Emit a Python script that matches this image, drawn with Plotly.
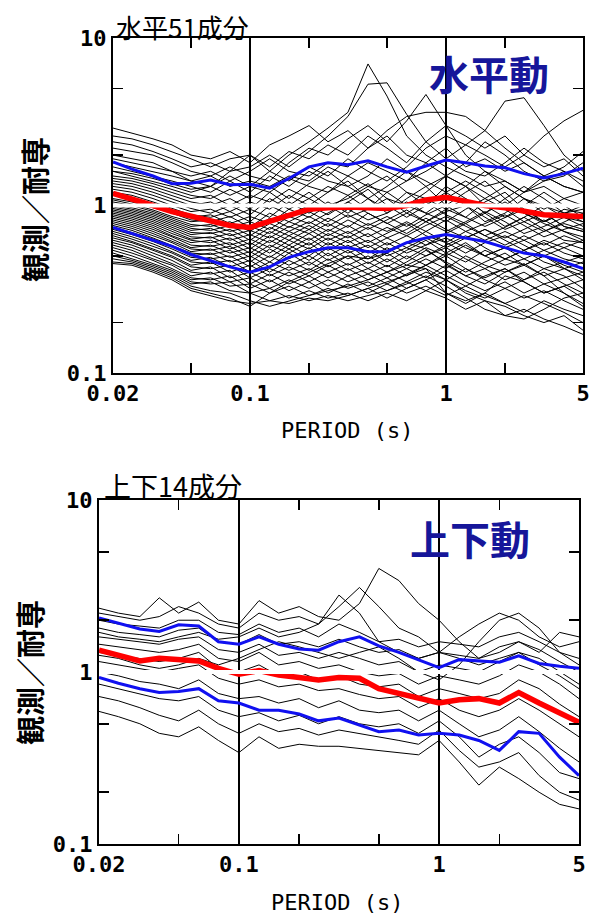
import plotly.graph_objects as go

# Period grid (s) shared by every spectral-ratio curve
periods = [0.02, 0.025, 0.032, 0.04, 0.05, 0.063, 0.079, 0.1, 0.126, 0.158, 0.2, 0.25,
           0.316, 0.4, 0.5, 0.63, 0.79, 1.0, 1.26, 1.58, 2.0, 2.5, 3.16, 4.0, 5.0]

# Horizontal components: observed / Taisen ratio, 51 records
horiz_curves = [
    [2.9, 2.7, 2.5, 2.3, 2.0, 1.9, 2.1, 1.8, 2.3, 2.6, 3.0, 2.4, 2.8, 2.2, 2.6, 2.0, 1.8, 2.2, 1.7, 1.9, 1.6, 1.8, 1.5, 1.7, 2.1],
    [2.6, 2.5, 2.3, 2.1, 1.9, 1.7, 1.9, 2.0, 1.6, 2.0, 2.4, 2.9, 3.6, 7.0, 4.5, 2.6, 2.0, 1.7, 1.5, 1.3, 1.4, 1.2, 1.5, 1.3, 1.2],
    [2.4, 2.3, 2.1, 1.9, 1.7, 1.8, 1.6, 1.7, 2.0, 1.7, 2.1, 2.6, 3.4, 5.3, 5.4, 3.5, 2.4, 1.9, 1.6, 1.5, 1.8, 2.2, 1.8, 1.6, 1.4],
    [2.2, 2.1, 2.0, 1.8, 1.6, 1.5, 1.7, 1.5, 1.4, 1.8, 2.2, 2.0, 2.5, 3.0, 2.4, 3.2, 4.6, 3.0, 2.0, 1.6, 1.3, 1.1, 1.0, 0.9, 0.85],
    [2.0, 1.9, 1.8, 1.6, 1.5, 1.6, 1.4, 1.6, 1.9, 1.6, 1.5, 1.8, 1.7, 2.2, 2.8, 3.4, 3.6, 3.6, 3.4, 2.8, 2.2, 1.8, 1.5, 1.3, 1.2],
    [1.9, 1.8, 1.7, 1.6, 1.4, 1.3, 1.5, 1.3, 1.6, 1.4, 1.7, 1.5, 1.9, 1.6, 1.4, 1.7, 2.2, 2.6, 2.3, 2.8, 4.2, 4.4, 3.0, 2.0, 1.6],
    [1.8, 1.7, 1.6, 1.5, 1.4, 1.5, 1.3, 1.4, 1.3, 1.5, 1.4, 1.7, 1.5, 1.8, 1.6, 1.4, 1.6, 1.9, 2.3, 2.0, 1.7, 2.0, 2.6, 3.2, 3.7],
    [1.7, 1.6, 1.5, 1.4, 1.3, 1.2, 1.4, 1.2, 1.5, 1.3, 1.6, 1.4, 1.3, 1.5, 1.9, 1.6, 1.3, 1.5, 1.8, 2.4, 2.0, 1.6, 1.4, 1.5, 1.8],
    [1.6, 1.55, 1.45, 1.35, 1.25, 1.3, 1.15, 1.3, 1.2, 1.45, 1.3, 1.2, 1.5, 1.3, 1.2, 1.4, 1.8, 1.5, 1.3, 1.6, 1.4, 1.2, 1.3, 1.1, 1.0],
    [1.5, 1.45, 1.35, 1.25, 1.15, 1.1, 1.25, 1.1, 1.3, 1.1, 1.35, 1.6, 1.3, 1.1, 1.3, 1.6, 1.4, 1.2, 1.4, 1.2, 1.0, 1.2, 1.4, 1.6, 1.3],
    [1.45, 1.4, 1.3, 1.2, 1.1, 1.15, 1.0, 1.15, 1.05, 1.25, 1.1, 1.3, 1.15, 1.35, 1.1, 1.0, 1.2, 1.5, 1.3, 1.1, 1.3, 1.1, 0.95, 1.1, 1.2],
    [1.4, 1.35, 1.25, 1.15, 1.05, 1.0, 1.1, 0.95, 1.2, 1.0, 1.2, 1.0, 1.1, 1.3, 1.5, 1.2, 1.0, 1.3, 1.1, 0.9, 1.1, 1.3, 1.1, 0.9, 0.8],
    [1.35, 1.3, 1.2, 1.1, 1.0, 1.05, 0.92, 1.05, 0.95, 1.15, 1.0, 1.2, 1.4, 1.1, 0.9, 1.1, 1.3, 1.0, 1.2, 1.4, 1.1, 0.9, 0.8, 0.95, 0.9],
    [1.3, 1.25, 1.15, 1.05, 0.96, 0.9, 1.0, 0.88, 1.1, 0.95, 1.1, 0.95, 1.15, 0.95, 1.2, 1.0, 0.9, 1.1, 1.3, 1.0, 0.85, 1.0, 1.2, 1.0, 0.85],
    [1.25, 1.2, 1.1, 1.0, 0.92, 0.95, 0.85, 0.95, 0.85, 1.05, 0.9, 1.05, 0.9, 1.1, 0.95, 1.2, 1.1, 0.95, 0.85, 1.05, 1.2, 0.95, 0.8, 0.9, 1.0],
    [1.2, 1.15, 1.05, 0.96, 0.88, 0.85, 0.92, 0.8, 1.0, 0.88, 1.0, 0.88, 1.05, 1.25, 1.0, 0.85, 1.0, 1.2, 1.0, 0.8, 0.9, 1.1, 0.9, 0.75, 0.7],
    [1.15, 1.1, 1.0, 0.92, 0.85, 0.88, 0.78, 0.86, 0.78, 0.95, 0.85, 1.0, 0.85, 0.95, 1.1, 0.9, 0.8, 0.95, 1.1, 0.9, 0.75, 0.85, 1.0, 0.85, 0.75],
    [1.1, 1.05, 0.97, 0.9, 0.82, 0.8, 0.86, 0.74, 0.9, 0.8, 0.92, 0.8, 0.95, 0.82, 0.9, 1.05, 0.9, 0.8, 0.95, 1.1, 0.95, 0.8, 0.7, 0.8, 0.9],
    [1.08, 1.02, 0.94, 0.86, 0.8, 0.82, 0.74, 0.8, 0.72, 0.86, 0.78, 0.9, 1.05, 0.9, 0.78, 0.9, 1.05, 0.88, 0.78, 0.9, 1.05, 0.9, 0.78, 0.7, 0.65],
    [1.05, 1.0, 0.92, 0.84, 0.77, 0.75, 0.8, 0.7, 0.84, 0.74, 0.86, 0.75, 0.88, 0.76, 0.86, 0.75, 0.88, 1.0, 0.85, 0.75, 0.85, 0.95, 0.8, 0.9, 0.95],
    [1.02, 0.97, 0.9, 0.82, 0.75, 0.77, 0.7, 0.75, 0.68, 0.8, 0.72, 0.84, 0.74, 0.9, 0.78, 0.68, 0.8, 0.92, 1.0, 0.85, 0.72, 0.8, 0.9, 0.75, 0.7],
    [1.0, 0.95, 0.88, 0.8, 0.73, 0.71, 0.76, 0.66, 0.78, 0.7, 0.8, 0.7, 0.82, 0.72, 0.82, 0.94, 0.8, 0.7, 0.8, 0.92, 0.8, 0.68, 0.75, 0.85, 0.8],
    [0.98, 0.93, 0.86, 0.78, 0.71, 0.73, 0.66, 0.71, 0.64, 0.75, 0.68, 0.78, 0.68, 0.78, 0.7, 0.8, 0.7, 0.82, 0.7, 0.78, 0.88, 0.76, 0.65, 0.72, 0.78],
    [0.96, 0.91, 0.84, 0.76, 0.69, 0.68, 0.72, 0.62, 0.74, 0.66, 0.76, 0.66, 0.76, 0.65, 0.74, 0.66, 0.76, 0.86, 0.75, 0.66, 0.74, 0.85, 0.72, 0.62, 0.6],
    [0.94, 0.89, 0.82, 0.74, 0.67, 0.69, 0.62, 0.67, 0.6, 0.7, 0.62, 0.72, 0.64, 0.74, 0.64, 0.72, 0.84, 0.72, 0.64, 0.72, 0.64, 0.72, 0.82, 0.7, 0.62],
    [0.92, 0.87, 0.8, 0.72, 0.65, 0.64, 0.68, 0.58, 0.7, 0.62, 0.72, 0.62, 0.7, 0.6, 0.68, 0.78, 0.66, 0.6, 0.7, 0.62, 0.7, 0.62, 0.7, 0.78, 0.72],
    [0.9, 0.85, 0.78, 0.7, 0.63, 0.65, 0.58, 0.63, 0.56, 0.66, 0.58, 0.68, 0.6, 0.68, 0.58, 0.66, 0.58, 0.68, 0.78, 0.66, 0.58, 0.66, 0.58, 0.66, 0.6],
    [0.88, 0.83, 0.76, 0.68, 0.62, 0.6, 0.64, 0.55, 0.66, 0.58, 0.68, 0.58, 0.66, 0.56, 0.64, 0.56, 0.64, 0.56, 0.64, 0.72, 0.62, 0.54, 0.62, 0.56, 0.5],
    [0.86, 0.81, 0.74, 0.66, 0.6, 0.62, 0.55, 0.6, 0.52, 0.62, 0.55, 0.64, 0.56, 0.62, 0.54, 0.6, 0.7, 0.6, 0.52, 0.6, 0.66, 0.58, 0.5, 0.56, 0.62],
    [0.84, 0.79, 0.72, 0.65, 0.58, 0.57, 0.6, 0.52, 0.62, 0.55, 0.64, 0.54, 0.62, 0.52, 0.6, 0.52, 0.58, 0.64, 0.56, 0.5, 0.56, 0.62, 0.54, 0.48, 0.45],
    [0.82, 0.77, 0.7, 0.63, 0.56, 0.58, 0.52, 0.56, 0.49, 0.58, 0.5, 0.6, 0.52, 0.58, 0.5, 0.56, 0.5, 0.58, 0.66, 0.56, 0.48, 0.54, 0.6, 0.52, 0.48],
    [0.8, 0.75, 0.68, 0.61, 0.55, 0.54, 0.57, 0.49, 0.58, 0.52, 0.6, 0.5, 0.58, 0.48, 0.56, 0.48, 0.56, 0.5, 0.58, 0.5, 0.56, 0.48, 0.54, 0.6, 0.55],
    [0.78, 0.73, 0.66, 0.6, 0.53, 0.55, 0.49, 0.53, 0.46, 0.55, 0.47, 0.56, 0.48, 0.54, 0.46, 0.54, 0.62, 0.52, 0.46, 0.54, 0.48, 0.44, 0.5, 0.44, 0.4],
    [0.76, 0.71, 0.64, 0.58, 0.52, 0.51, 0.54, 0.46, 0.55, 0.48, 0.56, 0.47, 0.54, 0.45, 0.52, 0.44, 0.5, 0.56, 0.48, 0.42, 0.48, 0.54, 0.46, 0.42, 0.38],
    [0.74, 0.69, 0.63, 0.57, 0.5, 0.52, 0.46, 0.5, 0.43, 0.52, 0.44, 0.52, 0.44, 0.5, 0.43, 0.5, 0.44, 0.52, 0.6, 0.5, 0.44, 0.48, 0.42, 0.46, 0.5],
    [0.72, 0.67, 0.61, 0.55, 0.49, 0.48, 0.5, 0.43, 0.5, 0.44, 0.5, 0.43, 0.5, 0.42, 0.48, 0.42, 0.48, 0.42, 0.5, 0.44, 0.4, 0.44, 0.5, 0.42, 0.36],
    [0.7, 0.65, 0.59, 0.53, 0.47, 0.49, 0.43, 0.47, 0.4, 0.47, 0.41, 0.48, 0.41, 0.46, 0.4, 0.46, 0.54, 0.46, 0.4, 0.46, 0.52, 0.44, 0.38, 0.42, 0.46],
    [0.68, 0.63, 0.57, 0.52, 0.46, 0.45, 0.47, 0.4, 0.46, 0.41, 0.46, 0.4, 0.45, 0.39, 0.44, 0.38, 0.44, 0.5, 0.42, 0.37, 0.42, 0.36, 0.42, 0.38, 0.32],
    [0.66, 0.61, 0.55, 0.5, 0.44, 0.46, 0.4, 0.44, 0.38, 0.43, 0.38, 0.44, 0.38, 0.42, 0.37, 0.42, 0.37, 0.44, 0.38, 0.42, 0.36, 0.4, 0.34, 0.37, 0.4],
    [0.64, 0.6, 0.54, 0.49, 0.43, 0.42, 0.44, 0.37, 0.42, 0.38, 0.42, 0.37, 0.42, 0.36, 0.4, 0.35, 0.4, 0.36, 0.42, 0.36, 0.32, 0.36, 0.4, 0.34, 0.3],
    [0.62, 0.58, 0.52, 0.47, 0.41, 0.43, 0.37, 0.4, 0.35, 0.4, 0.35, 0.4, 0.35, 0.39, 0.34, 0.39, 0.44, 0.38, 0.33, 0.38, 0.42, 0.35, 0.3, 0.33, 0.28],
    [0.6, 0.56, 0.5, 0.45, 0.4, 0.39, 0.41, 0.34, 0.39, 0.34, 0.38, 0.33, 0.38, 0.33, 0.37, 0.32, 0.36, 0.41, 0.35, 0.31, 0.35, 0.3, 0.34, 0.3, 0.26],
    [0.58, 0.54, 0.48, 0.44, 0.38, 0.4, 0.35, 0.37, 0.32, 0.36, 0.32, 0.36, 0.32, 0.35, 0.31, 0.35, 0.31, 0.36, 0.31, 0.28, 0.32, 0.28, 0.31, 0.27, 0.24],
    [0.56, 0.52, 0.47, 0.42, 0.37, 0.36, 0.38, 0.32, 0.36, 0.31, 0.35, 0.3, 0.34, 0.3, 0.34, 0.3, 0.33, 0.29, 0.33, 0.29, 0.26, 0.29, 0.26, 0.23, 0.2],
    [0.54, 0.5, 0.45, 0.41, 0.36, 0.37, 0.33, 0.34, 0.3, 0.33, 0.29, 0.32, 0.29, 0.32, 0.28, 0.32, 0.36, 0.3, 0.27, 0.3, 0.26, 0.23, 0.27, 0.24, 0.22],
    [0.52, 0.48, 0.44, 0.4, 0.35, 0.34, 0.35, 0.3, 0.32, 0.28, 0.31, 0.28, 0.3, 0.27, 0.3, 0.27, 0.31, 0.28, 0.24, 0.27, 0.25, 0.22, 0.2, 0.22, 0.18],
    [0.5, 0.47, 0.43, 0.39, 0.34, 0.35, 0.31, 0.3, 0.27, 0.29, 0.27, 0.29, 0.27, 0.29, 0.31, 0.34, 0.38, 0.33, 0.28, 0.24, 0.22, 0.24, 0.21, 0.19, 0.17],
    [0.48, 0.46, 0.42, 0.38, 0.33, 0.31, 0.3, 0.27, 0.25, 0.27, 0.29, 0.31, 0.33, 0.36, 0.4, 0.44, 0.42, 0.36, 0.3, 0.27, 0.22, 0.21, 0.24, 0.28, 0.3],
    [0.46, 0.45, 0.41, 0.37, 0.32, 0.3, 0.28, 0.25, 0.3, 0.35, 0.4, 0.45, 0.5, 0.48, 0.52, 0.6, 0.55, 0.45, 0.38, 0.34, 0.4, 0.45, 0.38, 0.3, 0.25],
    [0.45, 0.44, 0.4, 0.36, 0.31, 0.29, 0.27, 0.26, 0.27, 0.26, 0.28, 0.27, 0.29, 0.32, 0.35, 0.38, 0.42, 0.3, 0.26, 0.3, 0.38, 0.35, 0.3, 0.33, 0.36],
    [1.6, 1.5, 1.4, 1.3, 1.2, 1.3, 1.6, 2.0, 1.7, 2.1, 1.9, 2.3, 2.0, 2.6, 2.2, 1.8, 2.4, 3.0, 2.6, 2.2, 2.6, 2.0, 1.7, 1.9, 1.5],
]
horiz_mean = [1.18, 1.1, 1.0, 0.92, 0.86, 0.8, 0.76, 0.74, 0.8, 0.88, 0.95, 0.97, 0.98,
              0.97, 0.96, 1.0, 1.08, 1.12, 1.06, 1.0, 0.97, 0.93, 0.88, 0.87, 0.86]
horiz_upper = [1.82, 1.65, 1.5, 1.35, 1.36, 1.42, 1.33, 1.34, 1.27, 1.45, 1.7, 1.8, 1.75,
               1.85, 1.7, 1.58, 1.72, 1.87, 1.8, 1.72, 1.68, 1.55, 1.46, 1.55, 1.67]
horiz_lower = [0.74, 0.68, 0.62, 0.57, 0.51, 0.47, 0.43, 0.40, 0.43, 0.49, 0.53, 0.56, 0.56,
               0.53, 0.53, 0.6, 0.64, 0.67, 0.64, 0.61, 0.56, 0.52, 0.5, 0.46, 0.42]

# Vertical components: 14 records
vert_curves = [
    [0.59, 0.55, 0.5, 0.44, 0.42, 0.48, 0.4, 0.34, 0.42, 0.36, 0.38, 0.37, 0.37, 0.36, 0.35, 0.34, 0.33, 0.4, 0.3, 0.22, 0.28, 0.24, 0.2, 0.17, 0.16],
    [0.72, 0.68, 0.62, 0.56, 0.52, 0.6, 0.5, 0.44, 0.5, 0.45, 0.47, 0.43, 0.46, 0.44, 0.42, 0.4, 0.38, 0.46, 0.35, 0.28, 0.3, 0.34, 0.25, 0.2, 0.18],
    [0.85, 0.8, 0.75, 0.7, 0.68, 0.72, 0.6, 0.55, 0.58, 0.52, 0.56, 0.5, 0.55, 0.5, 0.48, 0.5, 0.44, 0.52, 0.42, 0.32, 0.38, 0.42, 0.34, 0.26, 0.24],
    [1.0, 0.95, 0.88, 0.85, 0.8, 0.9, 0.75, 0.7, 0.72, 0.66, 0.7, 0.62, 0.68, 0.6, 0.58, 0.6, 0.52, 0.6, 0.5, 0.42, 0.46, 0.55, 0.45, 0.36, 0.3],
    [1.15, 1.1, 1.05, 1.0, 1.05, 1.1, 0.92, 0.85, 0.9, 0.82, 0.85, 0.78, 0.8, 0.74, 0.7, 0.72, 0.62, 0.7, 0.6, 0.55, 0.6, 0.7, 0.6, 0.5, 0.42],
    [1.3, 1.25, 1.2, 1.15, 1.2, 1.3, 1.05, 1.0, 1.1, 0.95, 1.0, 0.9, 0.95, 0.85, 0.82, 0.85, 0.72, 0.8, 0.75, 0.7, 0.75, 0.9, 0.8, 0.65, 0.55],
    [1.45, 1.4, 1.35, 1.3, 1.35, 1.45, 1.2, 1.15, 1.3, 1.1, 1.15, 1.05, 1.1, 1.0, 0.95, 0.98, 0.85, 0.95, 0.9, 0.85, 0.95, 1.1, 1.0, 0.85, 0.7],
    [1.6, 1.55, 1.5, 1.45, 1.55, 1.6, 1.35, 1.3, 1.45, 1.25, 1.3, 1.2, 1.3, 1.2, 1.1, 1.15, 1.0, 1.1, 1.05, 1.0, 1.15, 1.3, 1.2, 1.0, 0.85],
    [1.8, 1.7, 1.65, 1.6, 1.75, 1.8, 1.5, 1.45, 1.65, 1.45, 1.5, 1.4, 1.55, 1.4, 1.3, 1.35, 1.2, 1.3, 1.25, 1.2, 1.4, 1.5, 1.35, 1.15, 1.0],
    [2.0, 1.9, 1.85, 1.8, 2.0, 2.0, 1.7, 1.65, 1.9, 1.7, 1.8, 1.6, 1.9, 1.7, 1.5, 1.55, 1.4, 1.5, 1.45, 1.4, 1.6, 1.7, 1.5, 1.3, 1.2],
    [2.2, 2.1, 2.0, 2.1, 2.4, 2.2, 1.9, 1.8, 2.2, 2.0, 2.1, 1.9, 2.4, 3.1, 2.4, 1.8, 1.6, 1.3, 1.6, 1.9, 2.2, 2.0, 1.6, 1.4, 1.5],
    [2.35, 2.2, 2.1, 2.7, 2.2, 2.55, 2.0, 1.9, 2.6, 2.2, 2.4, 2.1, 2.0, 2.5, 4.0, 3.4, 2.5, 2.0, 1.5, 1.2, 1.3, 1.5, 1.3, 1.7, 1.6],
    [1.7, 1.6, 1.55, 1.5, 1.6, 1.7, 1.55, 1.6, 1.8, 1.6, 1.7, 1.9, 2.8, 2.2, 1.5, 1.3, 1.2, 1.3, 1.2, 1.1, 1.2, 1.3, 1.1, 0.95, 0.8],
    [1.25, 1.2, 1.1, 1.05, 1.1, 1.2, 1.1, 1.2, 1.35, 1.5, 1.4, 1.3, 1.2, 1.3, 1.4, 1.2, 1.0, 0.9, 1.1, 1.5, 2.0, 2.2, 1.8, 1.3, 1.1],
]
vert_mean = [1.34, 1.25, 1.16, 1.2, 1.17, 1.16, 1.05, 0.97, 1.02, 0.96, 0.93, 0.9, 0.93,
             0.92, 0.8, 0.75, 0.7, 0.66, 0.69, 0.7, 0.66, 0.76, 0.66, 0.58, 0.51]
vert_upper = [2.06, 1.92, 1.78, 1.72, 1.88, 1.85, 1.5, 1.45, 1.6, 1.45, 1.36, 1.34, 1.5,
              1.6, 1.42, 1.3, 1.18, 1.06, 1.18, 1.16, 1.14, 1.24, 1.12, 1.08, 1.05]
vert_lower = [0.93, 0.86, 0.8, 0.76, 0.77, 0.8, 0.68, 0.66, 0.6, 0.6, 0.57, 0.52, 0.54,
              0.49, 0.45, 0.46, 0.43, 0.44, 0.43, 0.4, 0.35, 0.45, 0.44, 0.32, 0.25]

x_tick_vals = [0.02, 0.1, 1, 5]
x_tick_text = ["0.02", "0.1", "1", "5"]
y_tick_vals = [0.1, 1, 10]
y_tick_text = ["0.1", "1", "10"]
x_minor_vals = [0.05, 0.2, 0.5, 2]
y_minor_vals = [0.2, 0.5, 2, 5]

W, H = 597, 919


def px(x):
    return x / W


def py(y):
    return 1 - y / H


fig = go.Figure()


def add_panel(curves, mean, upper, lower, xa, ya):
    for c in curves:
        fig.add_trace(go.Scatter(x=periods, y=c, mode="lines", xaxis=xa, yaxis=ya,
                                 line=dict(color="black", width=1), hoverinfo="skip"))
    for band in (upper, lower):
        fig.add_trace(go.Scatter(x=periods, y=band, mode="lines", xaxis=xa, yaxis=ya,
                                 line=dict(color="#1010f0", width=3), hoverinfo="skip"))
    fig.add_trace(go.Scatter(x=periods, y=mean, mode="lines", xaxis=xa, yaxis=ya,
                             line=dict(color="#ff0000", width=5.5), hoverinfo="skip"))


add_panel(horiz_curves, horiz_mean, horiz_upper, horiz_lower, "x", "y")
add_panel(vert_curves, vert_mean, vert_upper, vert_lower, "x2", "y2")

tick_font = dict(family="DejaVu Sans Mono", size=22, color="black", weight="bold")


def xaxis_cfg(domain, anchor):
    return dict(type="log", domain=domain, anchor=anchor, automargin=False,
                range=[-1.69897, 0.69897],
                tickvals=x_tick_vals, ticktext=x_tick_text, tickfont=tick_font,
                ticks="inside", ticklen=10, tickwidth=1.5, tickcolor="black",
                showgrid=True, gridcolor="black", gridwidth=1.5,
                minor=dict(tickvals=x_minor_vals, ticks="inside", ticklen=10,
                           tickwidth=1.5, tickcolor="black", showgrid=False),
                showline=True, linecolor="black", linewidth=2, mirror="ticks",
                zeroline=False, fixedrange=True)


def yaxis_cfg(domain, anchor):
    return dict(type="log", domain=domain, anchor=anchor, automargin=False,
                range=[-1, 1],
                tickvals=y_tick_vals, ticktext=y_tick_text, tickfont=tick_font,
                ticks="inside", ticklen=10, tickwidth=1.5, tickcolor="black",
                showgrid=False,
                minor=dict(tickvals=y_minor_vals, ticks="inside", ticklen=10,
                           tickwidth=1.5, tickcolor="black", showgrid=False),
                showline=True, linecolor="black", linewidth=2, mirror="ticks",
                zeroline=False, fixedrange=True)


fig.update_layout(
    width=W, height=H,
    margin=dict(l=0, r=0, t=0, b=0, autoexpand=False),
    paper_bgcolor="white", plot_bgcolor="white",
    showlegend=False,
    xaxis=xaxis_cfg([px(113), px(583)], "y"),
    yaxis=yaxis_cfg([py(373), py(38)], "x"),
    xaxis2=xaxis_cfg([px(99), px(579)], "y2"),
    yaxis2=yaxis_cfg([py(844), py(500)], "x2"),
)

# White reference line at ratio 1 in both panels
for xr, yr in (("x", "y"), ("x2", "y2")):
    fig.add_shape(type="line", xref=f"{xr} domain", yref=yr, x0=0, x1=1, y0=1, y1=1,
                  line=dict(color="white", width=4), layer="above")

cjk = "Noto Sans CJK JP"
labels = [
    dict(text="水平51成分", x=px(114), y=py(26), xanchor="left", yanchor="middle",
         font=dict(family=cjk, size=26, color="black")),
    dict(text="上下14成分", x=px(102), y=py(485), xanchor="left", yanchor="middle",
         font=dict(family=cjk, size=27, color="black")),
    dict(text="観測／耐専", x=px(34), y=py(210), textangle=-90, xanchor="center", yanchor="middle",
         font=dict(family=cjk, size=29, color="black", weight="bold")),
    dict(text="観測／耐専", x=px(29), y=py(673), textangle=-90, xanchor="center", yanchor="middle",
         font=dict(family=cjk, size=29, color="black", weight="bold")),
    dict(text="PERIOD (s)", x=px(347), y=py(430), xanchor="center", yanchor="middle",
         font=dict(family="DejaVu Sans Mono", size=22, color="black")),
    dict(text="PERIOD (s)", x=px(337), y=py(902), xanchor="center", yanchor="middle",
         font=dict(family="DejaVu Sans Mono", size=22, color="black")),
    dict(text="水平動", x=px(489), y=py(73), xanchor="center", yanchor="middle",
         font=dict(family=cjk, size=40, color="#16169a", weight="bold")),
    dict(text="上下動", x=px(470), y=py(538), xanchor="center", yanchor="middle",
         font=dict(family=cjk, size=40, color="#16169a", weight="bold")),
]
for a in labels:
    fig.add_annotation(xref="paper", yref="paper", showarrow=False, **a)

fig.write_html("out.html", config={"displayModeBar": False, "staticPlot": True})
